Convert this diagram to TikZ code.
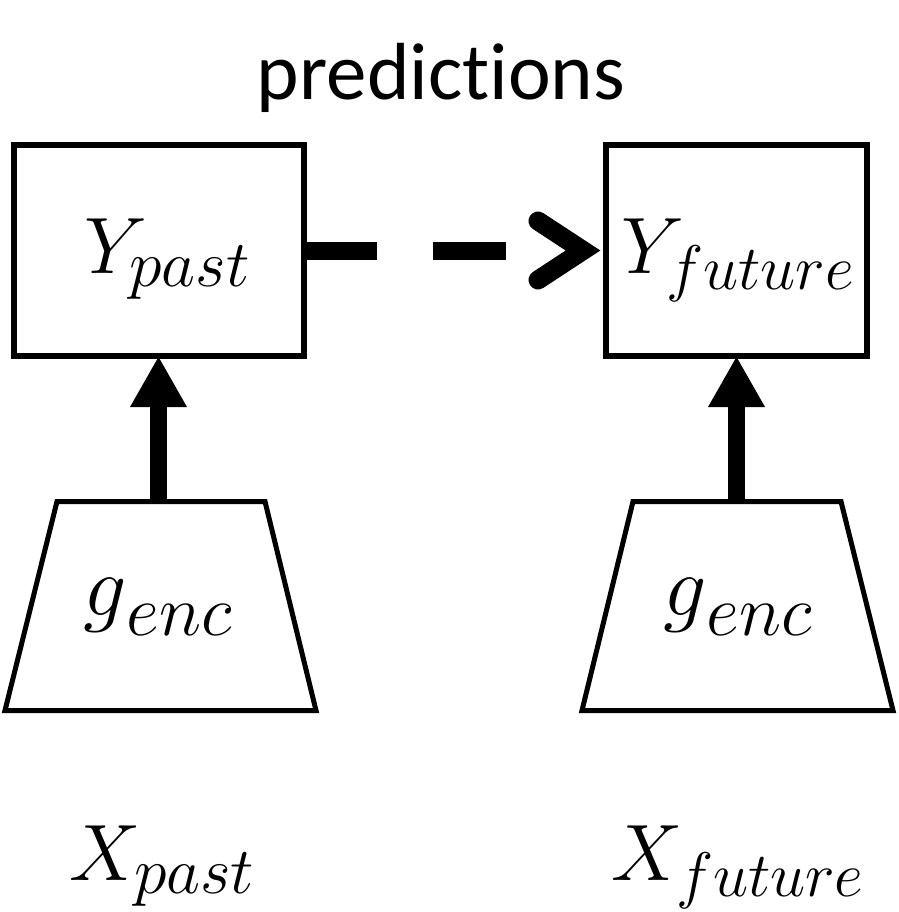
\RequirePackage{fix-cm}
\documentclass[tikz,border=0pt]{standalone}
\usepackage{fontspec}
\newfontfamily\calib[Ligatures=NoCommon]{Carlito}
\usetikzlibrary{arrows.meta,calc}
\newcommand\mysub[2][66]{\mbox{\fontsize{#1}{#1}\selectfont$#2$}}
\newcommand\genc{{\fontsize{86}{96}\selectfont$g$}\raisebox{-20pt}{\fontsize{72}{72}\selectfont$enc$}}
\begin{document}
\begin{tikzpicture}[x=1pt,y=-1pt,
  box/.style={draw, line width=6pt, minimum height=211pt, inner sep=0pt, outer sep=0pt},
  lbl/.style={anchor=base west, inner sep=0pt, outer sep=0pt, font=\fontsize{80}{96}\selectfont},
  title/.style={anchor=base, inner sep=0pt, outer sep=0pt, font=\calib\fontsize{81}{97}\selectfont},
  upar/.style={line width=17pt, -{Triangle[length=51pt,width=53pt]}},
  trap/.style={draw, line width=5pt, line join=miter},
  dashl/.style={line width=18pt, dash pattern=on 73pt off 56pt},
  chev/.style={line width=19pt, line cap=round, line join=miter}]
\useasboundingbox (0,0) rectangle (898,912);
\fill[white] (0,0) rectangle (898,912);

% title
\node[title] (pred) at (441,100) {predictions};

% output boxes
\node[box, minimum width=290pt] (yp) at (158.5,250.5) {};
\node[box, minimum width=261pt] (yf) at (736.5,250.5) {};
\node[lbl] (ypl) at (84,273) {$Y_{\mysub{past}}$};
\node[lbl] (yfl) at (621,273) {$Y_{\mysub[63]{future}}$};

% encoders
\draw[trap] (57,501.5) -- (265,501.5) -- (316,710.5) -- (5,710.5) -- cycle;
\draw[trap] (633,501.5) -- (841,501.5) -- (893,710.5) -- (582,710.5) -- cycle;
\coordinate (encL) at (158.5,501.5);
\coordinate (encR) at (736.5,501.5);
\node[lbl] (gl) at (83,615) {\genc};
\node[lbl] (gr) at (663,615) {\genc};

% inputs
\node[lbl] (xp) at (69,880) {$X_{\mysub{past}}$};
\node[lbl] (xf) at (611,880) {$X_{\mysub[63]{future}}$};

% connectors
\draw[upar] (encL) -- (yp.south);
\draw[upar] (encR) -- (yf.south);
\draw[dashl] (yp.east) -- ($(yf.west)+(-45,0)$);
\draw[chev] ($(yf.west)+(-68,-29.5)$) -- ($(yf.west)+(-23,0)$) -- ($(yf.west)+(-68,29.5)$);
\end{tikzpicture}
\end{document}
